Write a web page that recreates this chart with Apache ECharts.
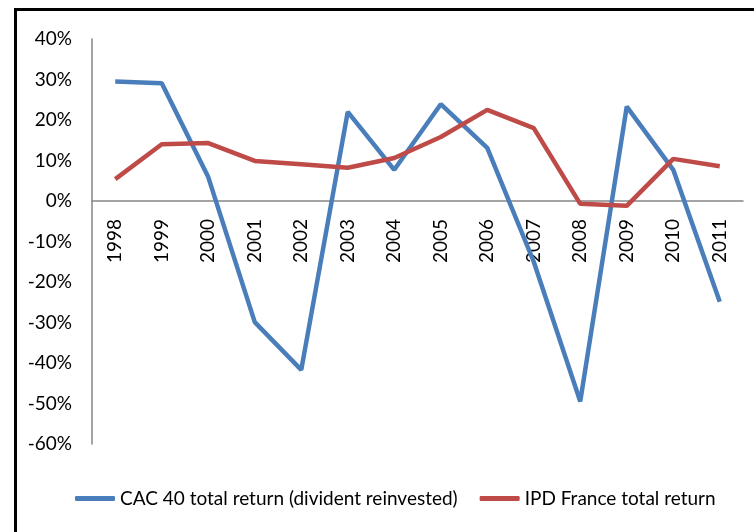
<!DOCTYPE html>
<html>
<head>
<meta charset="utf-8">
<script src="https://cdn.jsdelivr.net/npm/echarts@6/dist/echarts.min.js"></script>
<style>
html,body{margin:0;padding:0;background:#fff;}
#chart{width:754px;height:532px;}
</style>
</head>
<body>
<div id="chart"></div>
<script>
const years = ['1998','1999','2000','2001','2002','2003','2004','2005','2006','2007','2008','2009','2010','2011'];
const cac40 = [29.5, 29.1, 5.9, -29.9, -41.7, 22.0, 7.7, 23.9, 13.1, -15.0, -49.5, 23.3, 7.7, -24.9];
const ipd = [5.4, 14.0, 14.3, 9.9, 9.1, 8.2, 10.6, 15.8, 22.5, 18.0, -0.7, -1.2, 10.4, 8.6];
const seriesNames = ['CAC 40 total return (divident reinvested)', 'IPD France total return'];
const yTicks = {min: -60, max: 40, interval: 10};

const FONT = 'Lato';
const GRID_TOP = 39, GRID_BOTTOM = 88, H = 532;
const plotH = H - GRID_TOP - GRID_BOTTOM;
// distance from bottom of plot to the zero line
const zeroOffset = plotH * (0 - yTicks.min) / (yTicks.max - yTicks.min);

const chart = echarts.init(document.getElementById('chart'), null, {renderer: 'canvas'});
chart.setOption({
  animation: false,
  backgroundColor: '#fff',
  graphic: [{
    type: 'rect', left: 13, top: 7, z: 100, silent: true,
    shape: {x: 0, y: 0, width: 900, height: 700},
    style: {fill: 'none', stroke: '#000', lineWidth: 3}
  }],
  grid: {left: 92, right: 11, top: GRID_TOP, bottom: GRID_BOTTOM, containLabel: false},
  legend: {
    data: seriesNames,
    left: 70, top: 484,
    icon: 'roundRect',
    itemWidth: 40, itemHeight: 5,
    itemGap: 22,
    textStyle: {fontFamily: FONT, fontSize: 19, color: '#000'}
  },
  xAxis: {
    type: 'category',
    data: years,
    boundaryGap: true,
    position: 'bottom',
    offset: -zeroOffset,
    axisLine: {onZero: false, lineStyle: {color: '#868686', width: 1.5}},
    axisTick: {show: false},
    axisLabel: {rotate: 90, margin: 18, interval: 0, fontFamily: FONT, fontSize: 19, color: '#000'},
    splitLine: {show: false}
  },
  yAxis: {
    type: 'value',
    min: yTicks.min, max: yTicks.max, interval: yTicks.interval,
    axisLine: {show: true, lineStyle: {color: '#868686', width: 1.5}},
    axisTick: {show: false},
    axisLabel: {formatter: v => v + '%', margin: 20, fontFamily: FONT, fontSize: 19, color: '#000'},
    splitLine: {show: false}
  },
  series: [
    {name: seriesNames[0], type: 'line', data: cac40, showSymbol: false, symbol: 'none',
     lineStyle: {color: '#4A7EBB', width: 4.5}, itemStyle: {color: '#4A7EBB'}},
    {name: seriesNames[1], type: 'line', data: ipd, showSymbol: false, symbol: 'none',
     lineStyle: {color: '#BE4B48', width: 4.5}, itemStyle: {color: '#BE4B48'}}
  ]
});
</script>
</body>
</html>
